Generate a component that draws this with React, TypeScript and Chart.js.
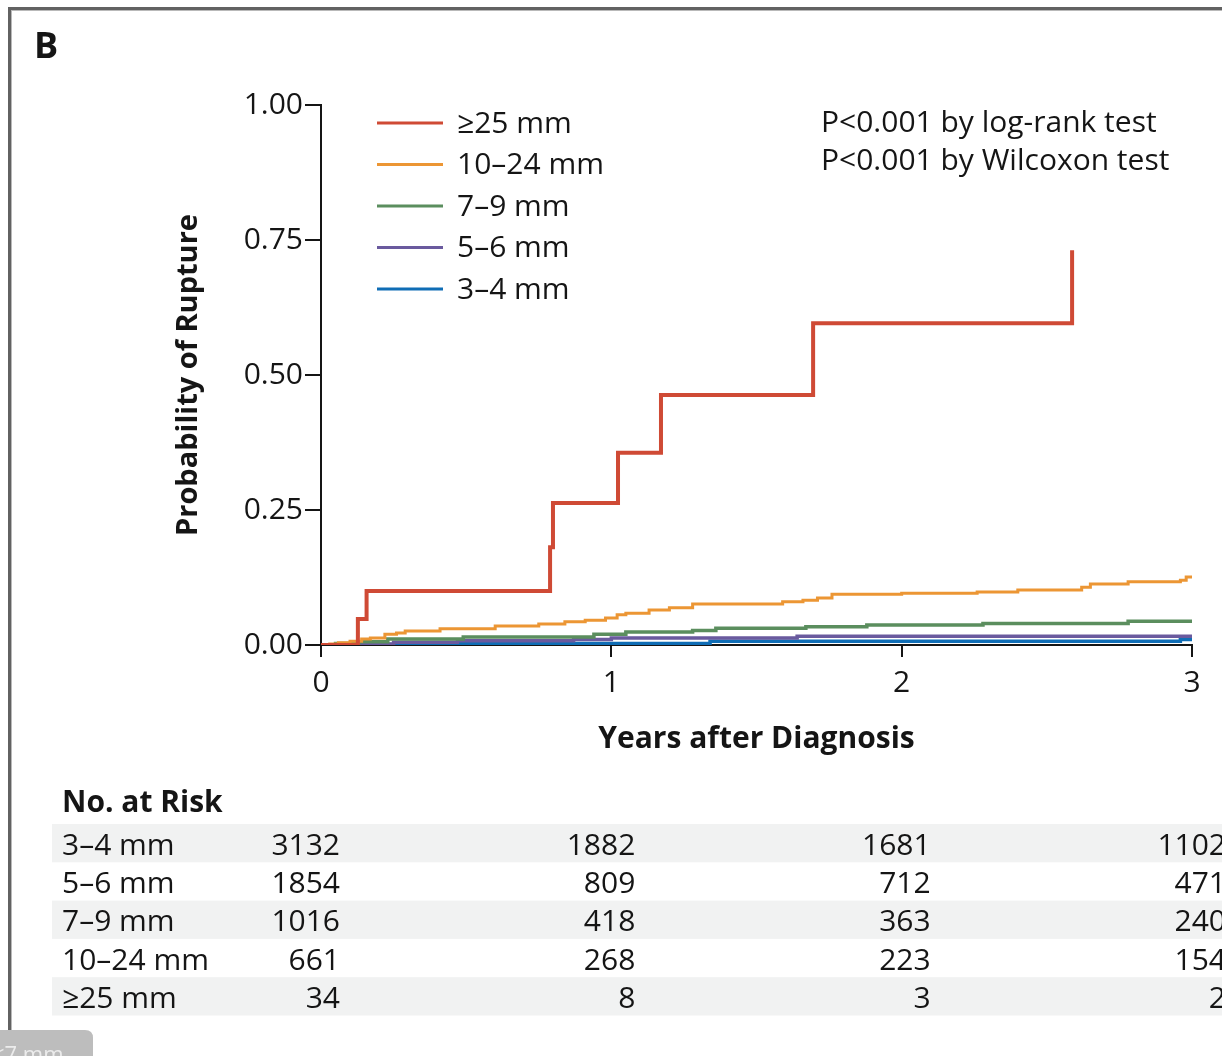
import React, { useEffect, useRef } from "react";
import { Chart, registerables } from "chart.js";

Chart.register(...registerables);

const FONT = "'Open Sans', 'Noto Sans', 'DejaVu Sans', sans-serif";
const INK = "#151515";

// Legend / dataset order (top of legend first)
const groupLabels = ["≥25 mm", "10–24 mm", "7–9 mm", "5–6 mm", "3–4 mm"];
const groupColors = ["#cf4a35", "#ec9634", "#5b8e5e", "#6a5a9e", "#0f6db5"];
const groupWidths = [4, 3, 3.5, 3.5, 3.5];

// ≥25 mm
const years25 = [0, 0.127, 0.157, 0.789, 0.799, 1.023, 1.171, 1.695, 2.587];
const prob25 = [0, 0.048, 0.1, 0.181, 0.263, 0.356, 0.463, 0.596, 0.731];

// 10–24 mm
const years10 = [0, 0.03, 0.06, 0.1, 0.14, 0.17, 0.22, 0.26, 0.29, 0.41, 0.6, 0.75, 0.84, 0.91, 0.98, 1.02, 1.05, 1.13, 1.2, 1.28, 1.59, 1.66, 1.71, 1.76, 2.0, 2.26, 2.4, 2.62, 2.65, 2.78, 2.96, 2.98, 3.0];
const prob10 = [0, 0.002, 0.004, 0.007, 0.011, 0.013, 0.02, 0.022, 0.026, 0.03, 0.035, 0.039, 0.043, 0.046, 0.05, 0.056, 0.059, 0.065, 0.069, 0.076, 0.08, 0.083, 0.087, 0.094, 0.096, 0.098, 0.102, 0.107, 0.113, 0.117, 0.12, 0.126, 0.128];

// 7–9 mm
const years7 = [0, 0.05, 0.13, 0.23, 0.49, 0.94, 1.05, 1.28, 1.36, 1.67, 1.88, 2.28, 2.78, 3.0];
const prob7 = [0, 0.003, 0.006, 0.011, 0.015, 0.02, 0.024, 0.027, 0.031, 0.034, 0.037, 0.04, 0.044, 0.044];

// 5–6 mm
const years5 = [0, 0.14, 0.25, 0.47, 0.87, 1.0, 1.64, 3.0];
const prob5 = [0, 0.002, 0.005, 0.008, 0.01, 0.013, 0.016, 0.016];

// 3–4 mm
const years3 = [0, 0.13, 0.4, 1.34, 2.96, 3.0];
const prob3 = [0, 0.001, 0.003, 0.007, 0.01, 0.01];

const seriesYears = [years25, years10, years7, years5, years3];
const seriesProbs = [prob25, prob10, prob7, prob5, prob3];

// Number at risk table
const riskTimes = [0, 1, 2, 3];
const riskGroups = ["3–4 mm", "5–6 mm", "7–9 mm", "10–24 mm", "≥25 mm"];
const risk3to4 = [3132, 1882, 1681, 1102];
const risk5to6 = [1854, 809, 712, 471];
const risk7to9 = [1016, 418, 363, 240];
const risk10to24 = [661, 268, 223, 154];
const risk25 = [34, 8, 3, 2];
const riskRows = [risk3to4, risk5to6, risk7to9, risk10to24, risk25];

const pTexts = ["P<0.001 by log-rank test", "P<0.001 by Wilcoxon test"];

const decorPlugin = {
  id: "decor",
  afterDraw(chart: any) {
    const ctx: CanvasRenderingContext2D = chart.ctx;
    const xs = chart.scales.x;
    ctx.save();

    // frame
    ctx.fillStyle = "#626262";
    ctx.fillRect(8, 7, 1214, 3);
    ctx.fillRect(8, 7, 3, 1049);
    ctx.fillStyle = "#b9b9b9";
    ctx.fillRect(11, 10, 1211, 1);
    ctx.fillRect(11, 10, 1, 1046);

    // panel letter
    ctx.fillStyle = INK;
    ctx.textBaseline = "middle";
    ctx.textAlign = "left";
    ctx.font = `bold 36px ${FONT}`;
    ctx.fillText("B", 34, 48);

    // legend
    ctx.font = `30px ${FONT}`;
    chart.data.datasets.forEach((ds: any, i: number) => {
      const y = 123 + i * 41.5;
      ctx.strokeStyle = ds.borderColor;
      ctx.lineWidth = 3;
      ctx.beginPath();
      ctx.moveTo(377, y);
      ctx.lineTo(443, y);
      ctx.stroke();
      ctx.fillStyle = INK;
      ctx.fillText(ds.label, 457, y + 1);
    });

    // p-values
    pTexts.forEach((t, i) => {
      ctx.fillText(t, 821, 123 + i * 38);
    });

    // risk table
    ctx.font = `bold 30px ${FONT}`;
    ctx.fillText("No. at Risk", 62, 803);
    const top = 824;
    const rh = 38.3;
    ctx.fillStyle = "#f1f2f2";
    for (let r = 0; r < riskRows.length; r += 2) {
      ctx.fillRect(52, top + r * rh, 1222 - 52, rh);
    }
    ctx.fillStyle = INK;
    ctx.font = `30px ${FONT}`;
    riskRows.forEach((row, r) => {
      const y = top + r * rh + rh / 2 + 3;
      ctx.textAlign = "left";
      ctx.fillText(riskGroups[r], 62, y);
      ctx.textAlign = "right";
      row.forEach((v, c) => {
        const x = xs.getPixelForValue(riskTimes[c]) + 19 + c * 5;
        ctx.fillText(String(v), x, y);
      });
    });

    // cropped tab at bottom-left
    ctx.fillStyle = "#bdbdbd";
    ctx.beginPath();
    ctx.moveTo(0, 1030);
    ctx.lineTo(85, 1030);
    ctx.quadraticCurveTo(93, 1030, 93, 1038);
    ctx.lineTo(93, 1056);
    ctx.lineTo(0, 1056);
    ctx.closePath();
    ctx.fill();
    ctx.fillStyle = "#ececec";
    ctx.textAlign = "left";
    ctx.textBaseline = "alphabetic";
    ctx.font = `22px ${FONT}`;
    ctx.fillText("≤7 mm", -8, 1062);

    ctx.restore();
  },
};

export default function App() {
  const ref = useRef<HTMLCanvasElement>(null);
  useEffect(() => {
    document.body.style.margin = "0";
    document.body.style.overflow = "hidden";
    const canvas = ref.current!;
    const datasets = groupLabels.map((label, i) => ({
      label,
      data: seriesYears[i].map((x, k) => ({ x, y: seriesProbs[i][k] })),
      borderColor: groupColors[i],
      backgroundColor: groupColors[i],
      borderWidth: groupWidths[i],
      stepped: true,
      pointRadius: 0,
      fill: false,
    }));
    const chart = new Chart(canvas, {
      type: "line",
      data: { datasets } as any,
      options: {
        animation: false,
        responsive: false,
        maintainAspectRatio: false,
        layout: { padding: { left: 0, right: 30, top: 105, bottom: 291 } },
        plugins: { legend: { display: false }, tooltip: { enabled: false } },
        elements: { point: { radius: 0 }, line: { tension: 0 } },
        scales: {
          x: {
            type: "linear",
            min: 0,
            max: 3,
            ticks: {
              stepSize: 1,
              padding: 8,
              color: INK,
              font: { family: FONT, size: 30 },
              callback: (v: any) => String(v),
            },
            grid: { display: true, drawOnChartArea: false, drawTicks: true, tickLength: 12, color: INK, lineWidth: 2 },
            border: { display: true, color: INK, width: 2 },
            title: {
              display: true,
              text: "Years after Diagnosis",
              color: INK,
              font: { family: FONT, size: 30, weight: "bold" },
              padding: { top: 0, bottom: 8 },
            },
            afterFit: (s: any) => {
              s.height = 120;
            },
          },
          y: {
            type: "linear",
            min: 0,
            max: 1,
            ticks: {
              stepSize: 0.25,
              padding: 2,
              color: INK,
              font: { family: FONT, size: 30 },
              callback: (v: any) => Number(v).toFixed(2),
            },
            grid: { display: true, drawOnChartArea: false, drawTicks: true, tickLength: 16, color: INK, lineWidth: 2 },
            border: { display: true, color: INK, width: 2 },
            title: {
              display: true,
              text: "Probability of Rupture",
              color: INK,
              font: { family: FONT, size: 29, weight: "bold" },
              padding: { top: 171, bottom: 0 },
            },
            afterFit: (s: any) => {
              s.width = 321;
            },
          },
        },
      } as any,
      plugins: [decorPlugin],
    });
    return () => chart.destroy();
  }, []);
  return (
    <div style={{ width: 1222, height: 1056, position: "relative", background: "#fff" }}>
      <canvas ref={ref} width={1222} height={1056} style={{ display: "block", width: 1222, height: 1056 }} />
    </div>
  );
}
